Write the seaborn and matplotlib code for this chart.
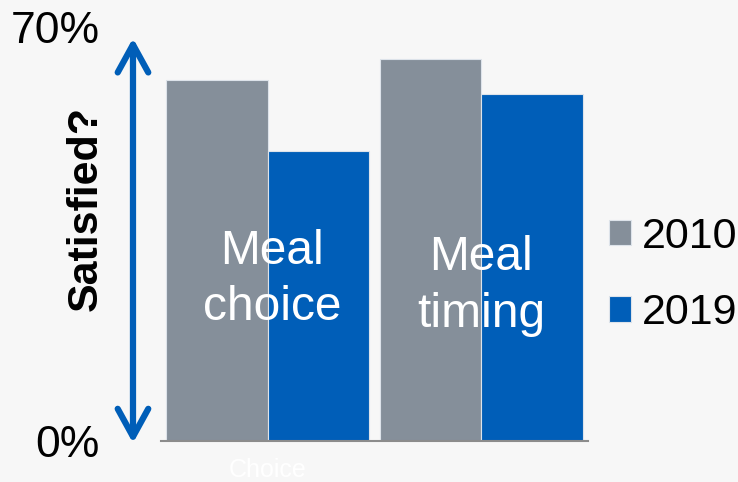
import matplotlib
matplotlib.use("Agg")
import matplotlib.pyplot as plt
import seaborn as sns
import pandas as pd

categories = ["Choice", "Timing"]
tick_labels = ["Choice", ""]
years = ["2010", "2019"]
values_2010 = [61, 64.6]
values_2019 = [49, 58.6]
bar_texts = ["Meal\nchoice", "Meal\ntiming"]
y_ticks = [0, 70]
y_tick_labels = ["0%", "70%"]

df = pd.DataFrame({
    "Category": categories * 2,
    "Year": [years[0]] * 2 + [years[1]] * 2,
    "Value": values_2010 + values_2019,
})

sns.set_theme(style="white")
plt.rcParams["font.family"] = ["Liberation Sans", "DejaVu Sans"]
plt.rcParams["text.color"] = "black"

bg = "#F7F7F7"
fig = plt.figure(figsize=(7.38, 4.82), dpi=100, facecolor=bg)
ax = fig.add_axes([161 / 738, 1 - 441 / 482, 427 / 738, 414 / 482])
ax.set_facecolor(bg)

sns.barplot(data=df, x="Category", y="Value", hue="Year",
            palette=["#858F9A", "#005EB8"], saturation=1, width=0.95,
            edgecolor="#DDE3EA", linewidth=0.8, ax=ax)

ax.set_ylim(0, 70)
ax.set_xlim(-0.5, 1.5)
ax.set_yticks(y_ticks)
ax.set_yticklabels(y_tick_labels, fontsize=32, color="black")
ax.tick_params(axis="y", length=0, pad=44)
ax.set_xticks(range(len(categories)))
ax.set_xticklabels(tick_labels, fontsize=18, color="white")
ax.tick_params(axis="x", which="major", length=0, pad=12)
ax.set_xticks([-0.5, 0.5, 1.5], minor=True)
ax.tick_params(axis="x", which="minor", length=5, width=1.5, color="#8C8C8C", direction="out")
ax.set_xlabel("")
ax.set_ylabel("")
for s in ["left", "right", "top"]:
    ax.spines[s].set_visible(False)
ax.spines["bottom"].set_color("#8C8C8C")
ax.spines["bottom"].set_linewidth(1.5)

# in-bar labels (offsets in category units / data units)
text_dx = [0.02, 0.0]
text_y = [27.3, 26.2]
for i, t in enumerate(bar_texts):
    ax.text(i + text_dx[i], text_y[i], t, ha="center", va="center",
            color="white", fontsize=34.5, linespacing=1.33)

# double-headed arrow
ax.annotate("", xy=(-0.0656, 0.973), xycoords="axes fraction",
            xytext=(-0.0656, -0.005), textcoords="axes fraction",
            arrowprops=dict(arrowstyle="<->,head_length=20,head_width=11",
                            mutation_scale=1, color="#005EB8", lw=4.5,
                            shrinkA=0, shrinkB=0, capstyle="round",
                            joinstyle="round"),
            annotation_clip=False)

fig.text(86 / 738, 1 - 208 / 482, "Satisfied?", rotation=90, ha="center",
         va="center", fontsize=31, fontweight="bold", color="black")

handles, labels = ax.get_legend_handles_labels()
ax.get_legend().remove()
leg = fig.legend(handles, labels, loc="center left",
                 bbox_to_anchor=(609 / 738, 1 - 275 / 482), frameon=False,
                 fontsize=31, handlelength=0.52, handleheight=0.52,
                 handletextpad=0.25, labelspacing=0.85, borderpad=0,
                 borderaxespad=0)
for t in leg.get_texts():
    t.set_color("black")

fig.savefig("out.png", dpi=100, facecolor=bg)
